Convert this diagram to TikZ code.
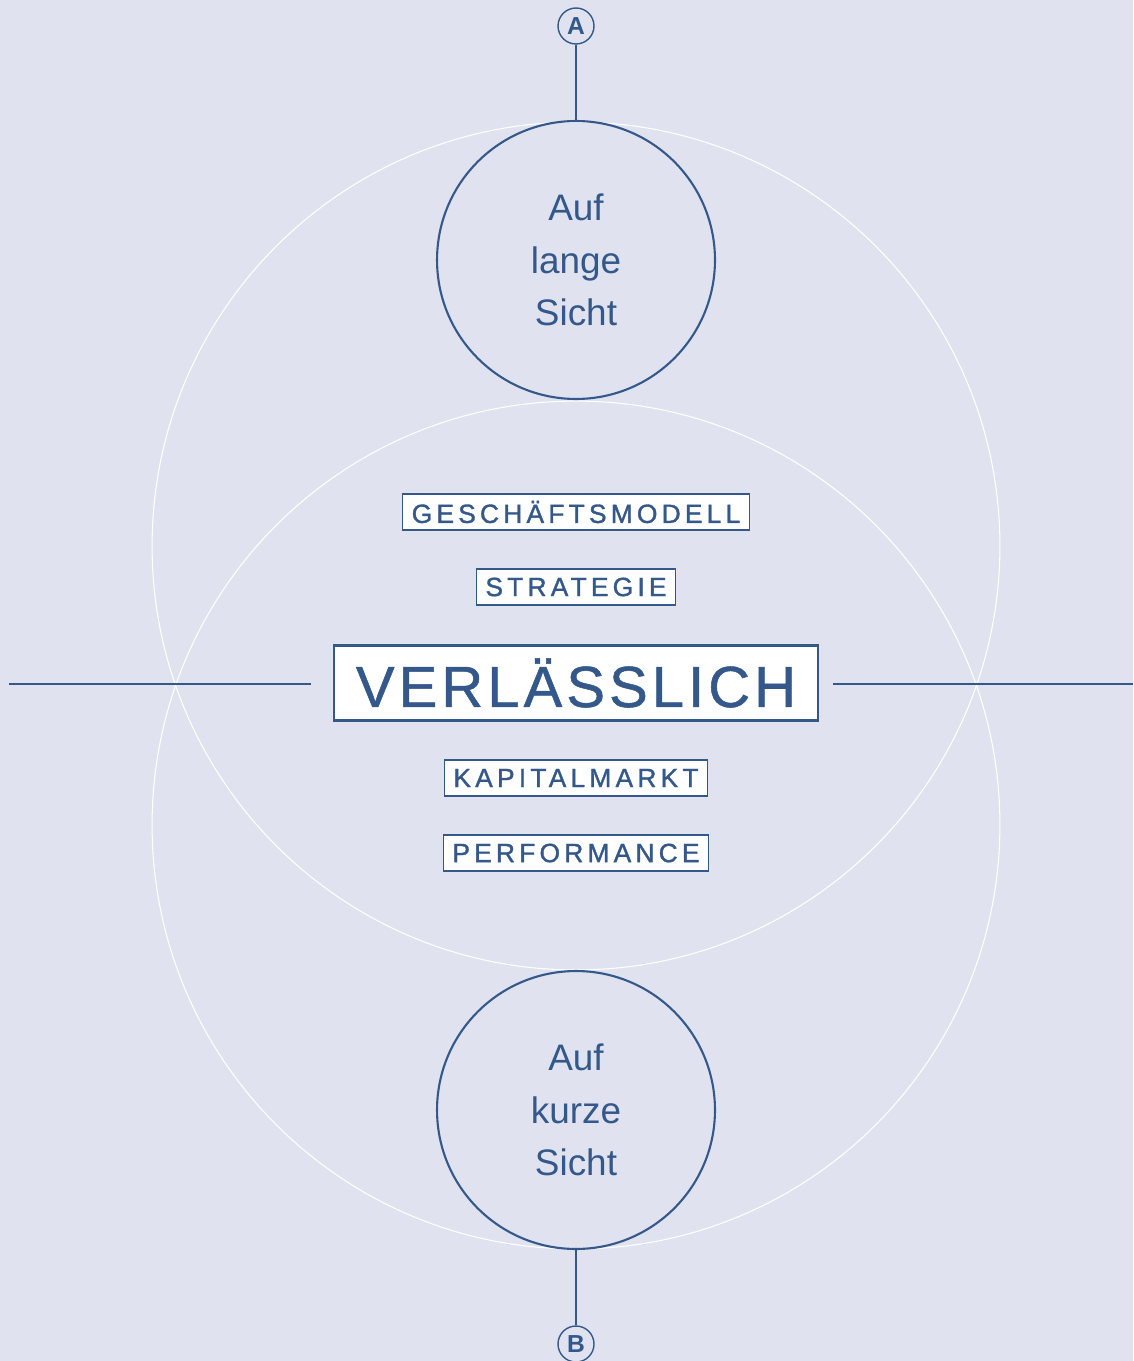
\documentclass[tikz,border=0pt]{standalone}
\usepackage{fontspec}
\setmainfont{Liberation Sans}
\newfontfamily\trackedfont[LetterSpace=16,FakeBold=1.3]{Liberation Sans}
\newfontfamily\headfont[LetterSpace=7,FakeBold=0.9]{Liberation Sans}
\usetikzlibrary{positioning}

\tikzset{
    bigring/.style={circle, draw=white, line width=0.6pt, minimum size=16.96cm, inner sep=0pt},
    smallring/.style={circle, draw=vblue, line width=1.2pt, minimum size=5.56cm, inner sep=0pt,
        text=vblue, align=center, font=\fontsize{21}{30}\selectfont},
    marker/.style={circle, draw=vblue, line width=0.8pt, minimum size=0.72cm, inner sep=0pt,
        text=vblue, font=\fontsize{14}{14}\selectfont\bfseries},
    tag/.style={rectangle, draw=vblue, fill=white, line width=0.8pt, text=vblue,
        minimum height=0.72cm, inner xsep=0.18cm, inner ysep=0pt,
        font=\fontsize{15}{15}\selectfont\trackedfont},
    mainbox/.style={rectangle, draw=vblue, fill=white, line width=1.6pt, text=vblue,
        minimum height=1.5cm, inner xsep=0.44cm, inner ysep=0pt,
        font=\fontsize{33}{33}\selectfont\headfont},
    stem/.style={draw=vblue, line width=1.3pt},
    axis/.style={draw=vblue, line width=0.7pt}
}

\begin{document}
\begin{tikzpicture}[x=0.02cm, y=-0.02cm]
        \definecolor{vbg}{RGB}{224,227,239}
        \definecolor{vblue}{RGB}{52,88,138}

        % background, fixes the page size
        \fill[vbg] (0,0) rectangle (1133,1361);
        \useasboundingbox (0,0) rectangle (1133,1361);

        % the two large white rings
        \node[bigring] (upper) at (576,546) {};
        \node[bigring] (lower) at (576,825) {};

        % Top - long term
        \node[smallring] (lang) at (576,260) {Auf\\lange\\Sicht};

        % Bottom - short term
        \node[smallring] (kurz) at (576,1110) {Auf\\kurze\\Sicht};

        % end markers
        \node[marker] (markA) at (576,26) {A};
        \node[marker] (markB) at (576,1344) {B};

        \draw[stem] (markA) -- (lang);
        \draw[stem] (kurz) -- (markB);

        % labels in the middle
        \node[tag] (modell) at (576,512) {GESCHÄFTSMODELL};
        \node[tag] (strat) at (576,587) {STRATEGIE};
        \node[mainbox] (verl) at (576,683) {VERLÄSSLICH};
        \node[tag] (kapital) at (576,778) {KAPITALMARKT};
        \node[tag] (perf) at (576,853) {PERFORMANCE};

        % horizontal axis
        \coordinate (leftend) at (9,684);
        \coordinate (rightend) at (1133,684);
        \draw[axis, shorten >=0.44cm] (leftend) -- (verl.west |- leftend);
        \draw[axis, shorten >=0.28cm] (rightend) -- (verl.east |- rightend);
    \end{tikzpicture}
\end{document}
